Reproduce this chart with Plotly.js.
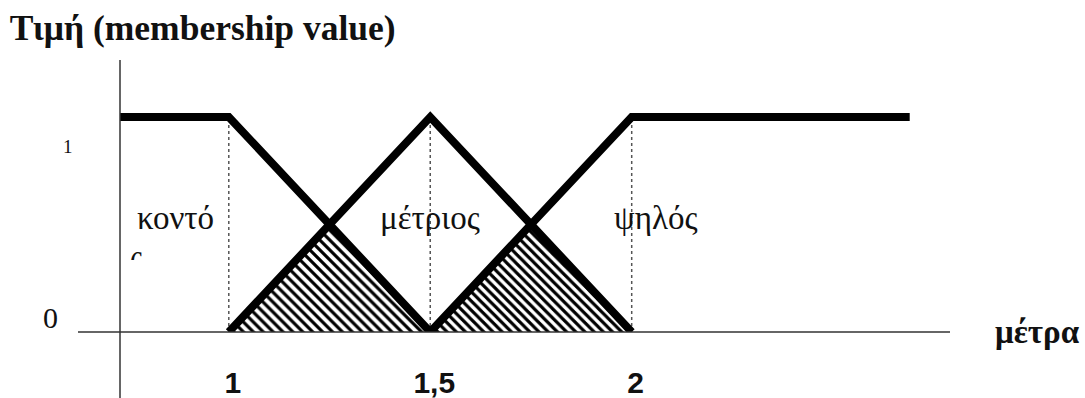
<!DOCTYPE html>
<html>
<head>
<meta charset="utf-8">
<script src="https://cdn.plot.ly/plotly-3.0.1.min.js"></script>
<style>
  html, body { margin: 0; padding: 0; background: #fff; }
  #chart { width: 1085px; height: 398px; }
</style>
</head>
<body>
<div id="chart"></div>
<script>
// Fuzzy sets for height (μέτρα): short / medium / tall
const breakpoints = [1, 1.5, 2];
const tickLabels = ["1", "1,5", "2"];

const kontoX = [0.73, 1, 1.5];
const kontoY = [1, 1, 0];
const metriosX = [1, 1.5, 2];
const metriosY = [0, 1, 0];
const psilosX = [1.5, 2, 2.69];
const psilosY = [0, 1, 1];

// overlap regions (intersection of neighbouring sets)
const overlapLowX = [1, 1.25, 1.5];
const overlapLowY = [0, 0.5, 0];
const overlapHighX = [1.5, 1.75, 2];
const overlapHighY = [0, 0.5, 0];

const setNames = ["κοντό", "μέτριος", "ψηλός"];
const setLabelX = [0.868, 1.5, 2.06];
const setLabelY = [0.53, 0.53, 0.53];

const yTickVals = [0, 1];
const yTickText = ["0", "1"];

const serif = "Liberation Serif, Times New Roman, serif";
const sans = "Liberation Sans, Arial, sans-serif";

const traces = [];

// hatched overlap triangles
traces.push({
  x: overlapLowX, y: overlapLowY, type: "scatter", mode: "lines",
  fill: "toself", fillcolor: "rgba(0,0,0,0)",
  fillpattern: { shape: "\\", size: 7, solidity: 0.45, fgcolor: "#000", bgcolor: "#fff" },
  line: { width: 0, color: "rgba(0,0,0,0)" }, hoverinfo: "skip"
});
traces.push({
  x: overlapHighX, y: overlapHighY, type: "scatter", mode: "lines",
  fill: "toself", fillcolor: "rgba(0,0,0,0)",
  fillpattern: { shape: "\\", size: 6.5, solidity: 0.48, fgcolor: "#000", bgcolor: "#fff" },
  line: { width: 2, color: "#222", dash: "dot" }, hoverinfo: "skip"
});

// dotted guides at the breakpoints
breakpoints.forEach(function (b) {
  traces.push({
    x: [b, b], y: [0, 1], type: "scatter", mode: "lines",
    line: { width: 1.5, color: "#555", dash: "dot" }, hoverinfo: "skip"
  });
});

// membership functions
[[kontoX, kontoY], [metriosX, metriosY], [psilosX, psilosY]].forEach(function (s) {
  traces.push({
    x: s[0], y: s[1], type: "scatter", mode: "lines",
    line: { width: 8, color: "#000" }, hoverinfo: "skip"
  });
});

const annotations = [];
setNames.forEach(function (name, i) {
  annotations.push({
    x: setLabelX[i], y: setLabelY[i], xref: "x", yref: "y",
    text: name, showarrow: false, xanchor: "center", yanchor: "middle",
    font: { family: serif, size: 33, color: "#111" }
  });
});
// wrapped tail of "κοντός", cut off below its top arc
annotations.push({
  x: 0.77, y: 0.383, xref: "x", yref: "y",
  text: "ς", showarrow: false, xanchor: "center", yanchor: "middle",
  height: 21, valign: "top", borderpad: 0,
  font: { family: serif, size: 31, color: "#111" }
});
// y-axis values
annotations.push({
  x: -0.084, y: yTickVals[0], xref: "paper", yref: "y", yshift: 15,
  text: yTickText[0], showarrow: false, xanchor: "center", yanchor: "middle",
  font: { family: serif, size: 30, color: "#111" }
});
annotations.push({
  x: -0.063, y: yTickVals[1], xref: "paper", yref: "y", yshift: -30,
  text: yTickText[1], showarrow: false, xanchor: "center", yanchor: "middle",
  font: { family: serif, size: 19, color: "#111" }
});
// x-axis name
annotations.push({
  x: 1.105, y: 0, xref: "paper", yref: "y",
  text: "<b>μέτρα</b>", showarrow: false, xanchor: "center", yanchor: "middle",
  font: { family: serif, size: 33, color: "#111" }
});

const layout = {
  width: 1085, height: 398,
  margin: { l: 120, r: 135, t: 60, b: 66 },
  paper_bgcolor: "#fff", plot_bgcolor: "#fff",
  showlegend: false,
  title: {
    text: "<b>Τιμή (membership value)</b>",
    x: 0.009, xanchor: "left", xref: "container",
    y: 0.93, yanchor: "middle", yref: "container",
    font: { family: serif, size: 35.5, color: "#111" }
  },
  xaxis: {
    range: [0.73, 2.79], showgrid: false, zeroline: false, showline: false,
    tickmode: "array", tickvals: breakpoints, ticktext: tickLabels,
    ticks: "", ticklabelstandoff: 30, ticklabelshift: 4,
    tickfont: { family: sans, size: 30, color: "#111", weight: "bold" }
  },
  yaxis: {
    range: [0, 1.265], showgrid: false, zeroline: false, showline: false,
    showticklabels: false, ticks: ""
  },
  shapes: [
    { type: "line", xref: "paper", yref: "paper", x0: 0, x1: 0, y0: -0.243, y1: 1,
      line: { color: "#333", width: 1.5 } },
    { type: "line", xref: "paper", yref: "paper", x0: -0.0506, x1: 1, y0: 0, y1: 0,
      line: { color: "#333", width: 1.5 } }
  ],
  annotations: annotations
};

Plotly.newPlot("chart", traces, layout, { staticPlot: true, displayModeBar: false });
</script>
</body>
</html>
